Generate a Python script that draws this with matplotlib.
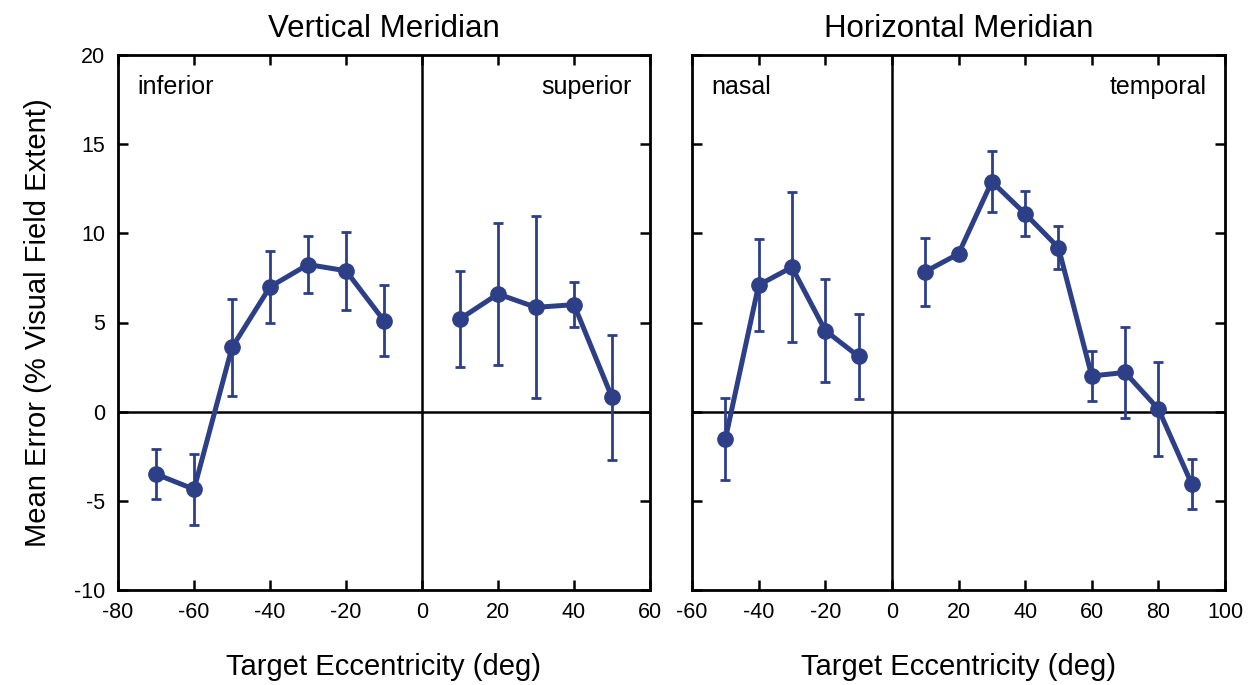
import matplotlib
matplotlib.use("Agg")
import matplotlib.pyplot as plt

plt.rcParams['font.family'] = ['Liberation Sans', 'DejaVu Sans']
plt.rcParams['axes.unicode_minus'] = False

# Vertical meridian data
vert_x = [-70, -60, -50, -40, -30, -20, -10, 10, 20, 30, 40, 50]
vert_y = [-3.5, -4.35, 3.6, 7.0, 8.25, 7.9, 5.1, 5.2, 6.6, 5.85, 6.0, 0.8]
vert_err = [1.4, 2.0, 2.7, 2.0, 1.6, 2.2, 2.0, 2.7, 4.0, 5.1, 1.25, 3.5]

# Horizontal meridian data
horz_x = [-50, -40, -30, -20, -10, 10, 20, 30, 40, 50, 60, 70, 80, 90]
horz_y = [-1.55, 7.1, 8.1, 4.55, 3.1, 7.85, 8.85, 12.9, 11.1, 9.2, 2.0, 2.2, 0.15, -4.05]
horz_err = [2.3, 2.6, 4.2, 2.9, 2.4, 1.9, 0.25, 1.7, 1.25, 1.2, 1.4, 2.55, 2.65, 1.4]

vert_xticks = [-80, -60, -40, -20, 0, 20, 40, 60]
horz_xticks = [-60, -40, -20, 0, 20, 40, 60, 80, 100]
yticks = [-10, -5, 0, 5, 10, 15, 20]

color = '#2d3f86'
W, H = 1253, 685
fig = plt.figure(figsize=(W / 100, H / 100), dpi=100)

ax1 = fig.add_axes([118 / W, (H - 590) / H, 532 / W, 535 / H])
ax2 = fig.add_axes([692 / W, (H - 590) / H, 533 / W, 535 / H])


def draw(ax, xs, ys, es, split, xlim, xticks, title, left_lab, right_lab, show_y):
    ax.axvline(0, color='black', lw=1.8, zorder=1)
    ax.axhline(0, color='black', lw=1.8, zorder=1)
    for seg in (split, slice(split.stop, None)):
        ax.errorbar(xs[seg], ys[seg], yerr=es[seg], color=color, lw=3.6,
                    marker='o', ms=11, elinewidth=2.0, capsize=3.5, capthick=2.0, zorder=3)
    ax.set_xlim(*xlim)
    ax.set_ylim(-10, 20)
    ax.set_xticks(xticks)
    ax.set_yticks(yticks)
    ax.tick_params(direction='in', length=7, width=1.8, top=True, right=True,
                   labelsize=15.5, pad=9)
    if not show_y:
        ax.tick_params(labelleft=False)
    for s in ax.spines.values():
        s.set_linewidth(2.0)
    ax.set_title(title, fontsize=22.5, pad=13)
    ax.set_xlabel('Target Eccentricity (deg)', fontsize=21, labelpad=21)
    ax.text(0.036, 0.94, left_lab, transform=ax.transAxes, fontsize=18,
            ha='left', va='center')
    ax.text(0.966, 0.94, right_lab, transform=ax.transAxes, fontsize=18,
            ha='right', va='center')


draw(ax1, vert_x, vert_y, vert_err, slice(0, 7), (-80, 60), vert_xticks,
     'Vertical Meridian', 'inferior', 'superior', True)
draw(ax2, horz_x, horz_y, horz_err, slice(0, 5), (-60, 100), horz_xticks,
     'Horizontal Meridian', 'nasal', 'temporal', False)
ax1.set_ylabel('Mean Error (% Visual Field Extent)', fontsize=21, labelpad=16)

fig.savefig('out.png', dpi=100)
